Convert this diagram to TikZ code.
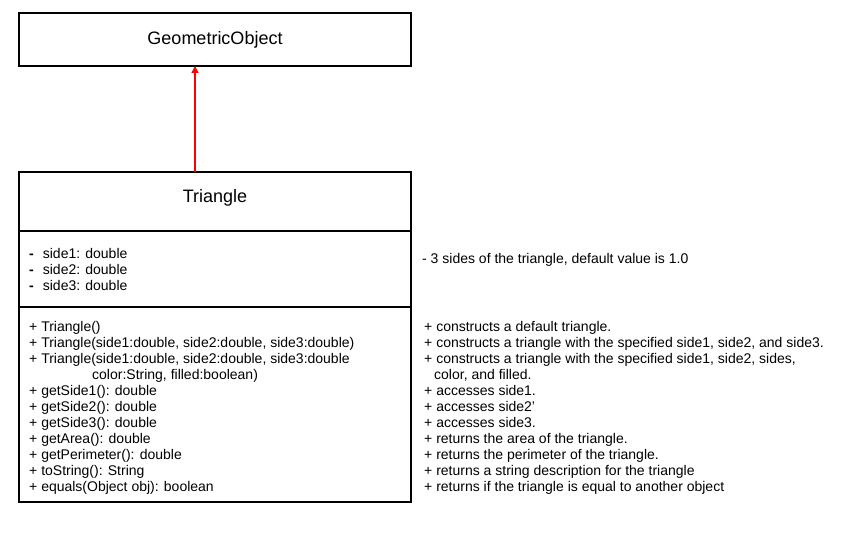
\documentclass[tikz,border=0pt]{standalone}
\usepackage{fontspec}
\setmainfont{Liberation Sans}
\usetikzlibrary{arrows.meta}
\begin{document}
\begin{tikzpicture}[x=1pt,y=-1pt,
  box/.style={draw,line width=1.2pt},
  txt/.style={anchor=west,inner sep=0pt,font=\fontsize{14}{16}\selectfont,align=left},
  title/.style={inner sep=0pt,font=\fontsize{18}{20}\selectfont}]
\useasboundingbox (0,0) rectangle (853,534);
\draw[box] (19,13) rectangle (411,66);
\node[title] (go) at (215,40) {GeometricObject};
\coordinate (goB) at (195,66);
\draw[box] (19,172) rectangle (411,502);
\coordinate (trT) at (195,172);
\draw[line width=1.2pt] (19,231) -- (411,231);
\draw[line width=1.2pt] (19,307) -- (411,307);
\node[title] (tr) at (215,198) {Triangle};
\draw[red,line width=1.5pt,-{Triangle[length=7pt,width=7pt]}] (trT) -- (goB);
\node[txt] (att) at (29,269) {\textbf{-}\hspace{9pt}side1: double\\\textbf{-}\hspace{9pt}side2: double\\\textbf{-}\hspace{9pt}side3: double};
\node[txt] (met) at (29,408) {+ Triangle()\\+ Triangle(side1:double, side2:double, side3:double)\\+ Triangle(side1:double, side2:double, side3:double\\\hspace*{63pt}color:String, filled:boolean)\\+ getSide1(): double\\+ getSide2(): double\\+ getSide3(): double\\+ getArea(): double\\+ getPerimeter(): double\\+ toString(): String\\+ equals(Object obj): boolean};
\node[txt] (attd) at (422,260) {- 3 sides of the triangle, default value is 1.0};
\node[txt] (metd) at (424,408) {+ constructs a default triangle.\\+ constructs a triangle with the specified side1, side2, and side3.\\+ constructs a triangle with the specified side1, side2, sides,\\\hspace*{10pt}color, and filled.\\+ accesses side1.\\+ accesses side2'\\+ accesses side3.\\+ returns the area of the triangle.\\+ returns the perimeter of the triangle.\\+ returns a string description for the triangle\\+ returns if the triangle is equal to another object};
\end{tikzpicture}
\end{document}
